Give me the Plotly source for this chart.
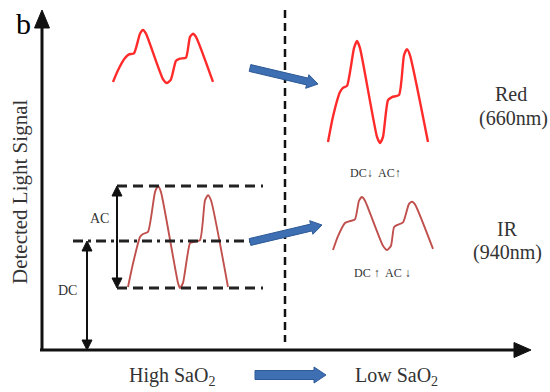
import math
import plotly.graph_objects as go

W, H = 550, 392

# ---- waveform data (normalized time 0..1, normalized signal 0..1) ----
red_high_t = [0, 0.05, 0.12, 0.16, 0.21, 0.27, 0.30, 0.33, 0.50, 0.54, 0.58, 0.63, 0.67, 0.73, 0.77, 0.80, 0.83, 1.0]
red_high_v = [0.02, 0.24, 0.47, 0.54, 0.56, 0.93, 1.0, 0.93, 0.07, 0.0, 0.07, 0.42, 0.46, 0.48, 0.87, 0.93, 0.87, 0.02]

red_low_t = [0, 0.05, 0.12, 0.15, 0.19, 0.26, 0.29, 0.32, 0.49, 0.52, 0.55, 0.60, 0.64, 0.71, 0.76, 0.79, 0.82, 1.0]
red_low_v = [0.01, 0.26, 0.50, 0.54, 0.56, 0.93, 1.0, 0.93, 0.06, 0.0, 0.06, 0.42, 0.45, 0.47, 0.86, 0.92, 0.86, 0.01]

ir_high_t = [0, 0.05, 0.12, 0.15, 0.20, 0.27, 0.30, 0.33, 0.50, 0.52, 0.55, 0.62, 0.65, 0.72, 0.77, 0.80, 0.83, 1.0]
ir_high_v = [0.01, 0.24, 0.50, 0.53, 0.55, 0.94, 1.0, 0.94, 0.05, 0.0, 0.05, 0.44, 0.45, 0.47, 0.86, 0.91, 0.86, 0.01]

ir_low_t = [0, 0.05, 0.12, 0.16, 0.22, 0.26, 0.29, 0.32, 0.50, 0.54, 0.58, 0.61, 0.64, 0.70, 0.76, 0.79, 0.82, 1.0]
ir_low_v = [0.0, 0.26, 0.51, 0.54, 0.58, 0.93, 1.0, 0.93, 0.08, 0.0, 0.08, 0.43, 0.47, 0.52, 0.87, 0.91, 0.86, 0.02]

labels_axis = ["Detected Light Signal", "High SaO<sub>2</sub>", "Low SaO<sub>2</sub>"]
labels_red = ["Red", "(660nm)", "DC\u2193  AC\u2191"]
labels_ir = ["IR", "(940nm)", "DC \u2191  AC \u2193"]

RED = "#ff2b2b"
BROWN = "#c0504d"
BLUE = "#3e6fb3"
BLUE_EDGE = "#2f5a96"
INK = "#111111"
TXT = "#333333"
FONT = "Liberation Serif"

fig = go.Figure()

# main pixel canvas
fig.update_layout(
    width=W, height=H, margin=dict(l=0, r=0, t=0, b=0),
    paper_bgcolor="white", plot_bgcolor="white", showlegend=False,
    xaxis=dict(range=[0, W], visible=False, fixedrange=True, domain=[0, 1]),
    yaxis=dict(range=[H, 0], visible=False, fixedrange=True, domain=[0, 1]),
)

PAD = 0.12
waves = [
    (red_high_t, red_high_v, (113, 213, 30, 83), RED, 2.4),
    (red_low_t, red_low_v, (328, 428, 41, 143), RED, 2.4),
    (ir_high_t, ir_high_v, (128, 228, 186, 288), BROWN, 1.9),
    (ir_low_t, ir_low_v, (333, 433, 197, 250), BROWN, 1.9),
]
for i, (t, v, (x0, x1, y0, y1), col, lw) in enumerate(waves, start=2):
    w = x1 - x0
    h = y1 - y0
    xd = [(x0 - PAD * w) / W, (x1 + PAD * w) / W]
    yd = [1 - (y1 + PAD * h) / H, 1 - (y0 - PAD * h) / H]
    fig.add_trace(go.Scatter(
        x=t, y=v, mode="lines", xaxis=f"x{i}", yaxis=f"y{i}",
        line=dict(color=col, width=lw, shape="spline", smoothing=0.55),
        hoverinfo="skip"))
    fig.layout[f"xaxis{i}"] = dict(domain=xd, range=[-PAD, 1 + PAD], visible=False,
                                   anchor=f"y{i}", fixedrange=True)
    fig.layout[f"yaxis{i}"] = dict(domain=yd, range=[-PAD, 1 + PAD], visible=False,
                                   anchor=f"x{i}", fixedrange=True)

shapes = []


def line(x0, y0, x1, y1, color=INK, width=3, dash="solid"):
    shapes.append(dict(type="line", xref="x", yref="y", x0=x0, y0=y0, x1=x1, y1=y1,
                       line=dict(color=color, width=width, dash=dash)))


def tri(tip, base_c, half, color=INK):
    (tx, ty), (bx, by) = tip, base_c
    dx, dy = tx - bx, ty - by
    L = math.hypot(dx, dy)
    nx, ny = -dy / L, dx / L
    p = f"M{bx + half * nx},{by + half * ny} L{tx},{ty} L{bx - half * nx},{by - half * ny} Z"
    shapes.append(dict(type="path", xref="x", yref="y", path=p,
                       fillcolor=color, line=dict(color=color, width=1)))


def block_arrow(sx, sy, ex, ey, a, b, hl):
    dx, dy = ex - sx, ey - sy
    L = math.hypot(dx, dy)
    ux, uy = dx / L, dy / L
    nx, ny = -uy, ux
    bx, by = ex - hl * ux, ey - hl * uy
    pts = [(sx + a * nx, sy + a * ny), (bx + a * nx, by + a * ny), (bx + b * nx, by + b * ny),
           (ex, ey), (bx - b * nx, by - b * ny), (bx - a * nx, by - a * ny),
           (sx - a * nx, sy - a * ny)]
    p = "M" + " L".join(f"{x:.1f},{y:.1f}" for x, y in pts) + " Z"
    shapes.append(dict(type="path", xref="x", yref="y", path=p,
                       fillcolor=BLUE, line=dict(color=BLUE_EDGE, width=1)))


# axes
line(42, 351, 42, 26, width=3)
tri((42, 10), (42, 28), 7.5)
line(40, 350, 516, 350, width=3)
tri((531, 350), (514, 350), 7.5)

# vertical divider
line(285, 10, 285, 342, width=2.5, dash="8px,5px")

# reference dashed lines
line(117, 186, 263, 186, color="#222222", width=3, dash="10px,6px")
line(73, 241, 263, 241, color="#222222", width=3, dash="10px,5px,3px,5px")
line(117, 288, 263, 288, color="#222222", width=3, dash="10px,6px")

# AC double arrow
line(117, 194, 117, 280, width=2)
tri((117, 186), (117, 196), 5)
tri((117, 288), (117, 278), 5)
# DC double arrow
line(87, 249, 87, 342, width=2)
tri((87, 241), (87, 251), 5)
tri((87, 350), (87, 340), 5)

# blue arrows
block_arrow(250, 68, 318, 84, 3.5, 7, 11)
block_arrow(250, 242, 322, 225, 3.5, 7, 11)
block_arrow(255, 375, 326, 375, 4.5, 8, 12)

fig.update_layout(shapes=shapes)

ann = []


def text(x, y, s, size, color=TXT, angle=0):
    ann.append(dict(x=x, y=y, xref="x", yref="y", text=s, showarrow=False,
                    font=dict(family=FONT, size=size, color=color), textangle=angle,
                    xanchor="center", yanchor="middle"))


text(23, 23, "b", 30, color="#000000")
text(20, 192, labels_axis[0], 21, color=TXT, angle=-90)
text(172, 376, labels_axis[1], 20)
text(396, 376, labels_axis[2], 20)
text(511, 94, labels_red[0], 20)
text(513, 118, labels_red[1], 20)
text(375, 173, labels_red[2], 12)
text(507, 229, labels_ir[0], 20)
text(507, 252, labels_ir[1], 20)
text(382, 273, labels_ir[2], 12)
text(99, 218, "AC", 14)
text(67, 290, "DC", 14)
fig.update_layout(annotations=ann)

fig.write_html("out.html", config={"displayModeBar": False},
               post_script="document.body.style.margin='0';document.body.style.overflow='hidden';")
